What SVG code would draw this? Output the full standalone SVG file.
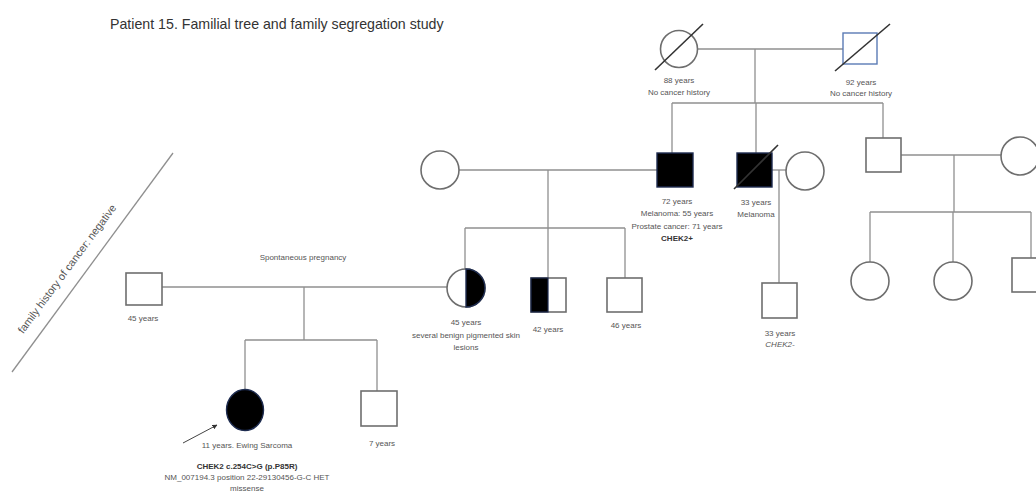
<svg xmlns="http://www.w3.org/2000/svg" width="1036" height="492" viewBox="0 0 1036 492">
<defs>
<style>
.ln{stroke:#8f8f8f;stroke-width:1.3;fill:none}
.sym{fill:#fff;stroke:#6e6e6e;stroke-width:1.6}
.aff{fill:#000;stroke:#1e2c50;stroke-width:1.4}
.dead{stroke:#333;stroke-width:1.6}
.t{font-family:"Liberation Sans",Arial,sans-serif;font-size:8px;fill:#555;text-anchor:middle}
.b{font-weight:bold;fill:#333}
.i{font-style:italic}
</style>
<marker id="arr" viewBox="0 0 10 10" refX="9" refY="5" markerWidth="5" markerHeight="5" orient="auto">
<path d="M0,0 L10,5 L0,10 z" fill="#333"/>
</marker>
</defs>
<rect width="1036" height="492" fill="#fff"/>
<text x="110" y="29" style="font-family:'Liberation Sans',Arial,sans-serif;font-size:14.2px;fill:#333">Patient 15. Familial tree and family segregation study</text>

<g id="connectors">
<line class="ln" x1="697" y1="49" x2="843" y2="49"/>
<line class="ln" x1="755" y1="49" x2="755" y2="103"/>
<line class="ln" x1="672" y1="103" x2="883" y2="103"/>
<line class="ln" x1="672" y1="103" x2="672" y2="153"/>
<line class="ln" x1="756" y1="103" x2="756" y2="153"/>
<line class="ln" x1="883" y1="103" x2="883" y2="138"/>
<line class="ln" x1="901" y1="155" x2="1001" y2="155"/>
<line class="ln" x1="954" y1="155" x2="954" y2="212"/>
<line class="ln" x1="870" y1="212" x2="1031" y2="212"/>
<line class="ln" x1="870" y1="212" x2="870" y2="262"/>
<line class="ln" x1="953" y1="212" x2="953" y2="262"/>
<line class="ln" x1="1031" y1="212" x2="1031" y2="258"/>
<line class="ln" x1="459" y1="170" x2="657" y2="170"/>
<line class="ln" x1="548" y1="170" x2="548" y2="228"/>
<line class="ln" x1="465" y1="228" x2="625" y2="228"/>
<line class="ln" x1="465" y1="228" x2="465" y2="269"/>
<line class="ln" x1="548" y1="228" x2="548" y2="278"/>
<line class="ln" x1="625" y1="228" x2="625" y2="278"/>
<line class="ln" x1="772" y1="170" x2="786" y2="170"/>
<line class="ln" x1="779" y1="170" x2="779" y2="283"/>
<line class="ln" x1="162" y1="287" x2="447" y2="287"/>
<line class="ln" x1="304" y1="287" x2="304" y2="340"/>
<line class="ln" x1="245" y1="340" x2="377" y2="340"/>
<line class="ln" x1="245" y1="340" x2="245" y2="390"/>
<line class="ln" x1="377" y1="340" x2="377" y2="391"/>
<line x1="183" y1="443" x2="217" y2="425" stroke="#444" stroke-width="1" marker-end="url(#arr)"/>
<line class="ln" x1="12" y1="372" x2="173" y2="153"/>
</g>

<g id="grandmother">
<circle class="sym" cx="679" cy="49" r="18.5"/>
<line class="dead" x1="655" y1="70" x2="703" y2="24"/>
<text class="t" x="679" y="83">88 years</text>
<text class="t" x="679" y="95">No cancer history</text>
</g>
<g id="grandfather">
<rect x="843" y="33" width="34" height="31" fill="#fff" stroke="#5b7bb5" stroke-width="1.4"/>
<line class="dead" x1="835" y1="71" x2="890" y2="24"/>
<text class="t" x="861" y="85">92 years</text>
<text class="t" x="861" y="96">No cancer history</text>
</g>
<g id="father-of-mother">
<rect class="aff" x="657" y="153" width="36" height="34"/>
<text class="t" x="677" y="204">72 years</text>
<text class="t" x="677" y="216">Melanoma: 55 years</text>
<text class="t" x="677" y="229">Prostate cancer: 71 years</text>
<text class="t b" x="677" y="241">CHEK2+</text>
</g>
<g id="great-uncle-melanoma">
<rect class="aff" x="737" y="153" width="35" height="34"/>
<line class="dead" x1="734" y1="189" x2="778" y2="145"/>
<text class="t" x="756" y="205">33 years</text>
<text class="t" x="756" y="217">Melanoma</text>
</g>
<g id="great-uncle-wife">
<circle class="sym" cx="805" cy="171" r="19"/>
</g>
<g id="great-uncle-son">
<rect class="sym" x="762" y="283" width="35" height="35"/>
<text class="t" x="780" y="336">33 years</text>
<text class="t i" x="780" y="347">CHEK2-</text>
</g>
<g id="uncle">
<rect class="sym" x="866" y="138" width="35" height="34"/>
</g>
<g id="uncle-wife">
<circle class="sym" cx="1020" cy="156" r="19"/>
</g>
<g id="cousin-1"><circle class="sym" cx="870" cy="281" r="19"/></g>
<g id="cousin-2"><circle class="sym" cx="953" cy="281" r="19"/></g>
<g id="cousin-3"><rect class="sym" x="1012" y="258" width="35" height="34"/></g>
<g id="grandmother-maternal">
<circle class="sym" cx="440" cy="170" r="19"/>
</g>
<g id="mother">
<circle cx="466" cy="288" r="19" fill="#fff" stroke="#6e6e6e" stroke-width="1.6"/>
<path d="M466,269 A19,19 0 0 1 466,307 Z" fill="#000" stroke="#1e2c50" stroke-width="1.4"/>
<text class="t" x="466" y="325">45 years</text>
<text class="t" x="466" y="338">several benign pigmented skin</text>
<text class="t" x="466" y="350">lesions</text>
</g>
<g id="aunt-uncle-42">
<rect class="sym" x="531" y="278" width="35" height="34"/>
<rect x="531" y="278" width="17" height="34" fill="#000" stroke="#1e2c50" stroke-width="1.2"/>
<text class="t" x="548" y="332">42 years</text>
</g>
<g id="uncle-46">
<rect class="sym" x="607" y="278" width="35" height="34"/>
<text class="t" x="626" y="328">46 years</text>
</g>
<g id="father">
<rect class="sym" x="126" y="273" width="36" height="32"/>
<text class="t" x="143" y="321">45 years</text>
</g>
<text class="t" x="303" y="260">Spontaneous pregnancy</text>
<g id="proband">
<ellipse class="aff" cx="245" cy="410" rx="18.5" ry="20.5"/>
<text class="t" x="247" y="448">11 years. Ewing Sarcoma</text>
<text class="t b" x="247" y="469">CHEK2 c.254C&gt;G (p.P85R)</text>
<text class="t" x="247" y="480">NM_007194.3 position 22-29130456-G-C HET</text>
<text class="t" x="247" y="491">missense</text>
</g>
<g id="brother">
<rect class="sym" x="361" y="391" width="36" height="35"/>
<text class="t" x="382" y="446">7 years</text>
</g>
<text transform="translate(70,271) rotate(-53.5)" style="font-family:'Liberation Sans',Arial,sans-serif;font-size:10.8px;fill:#555;text-anchor:middle">family history of cancer: negative</text>
</svg>
